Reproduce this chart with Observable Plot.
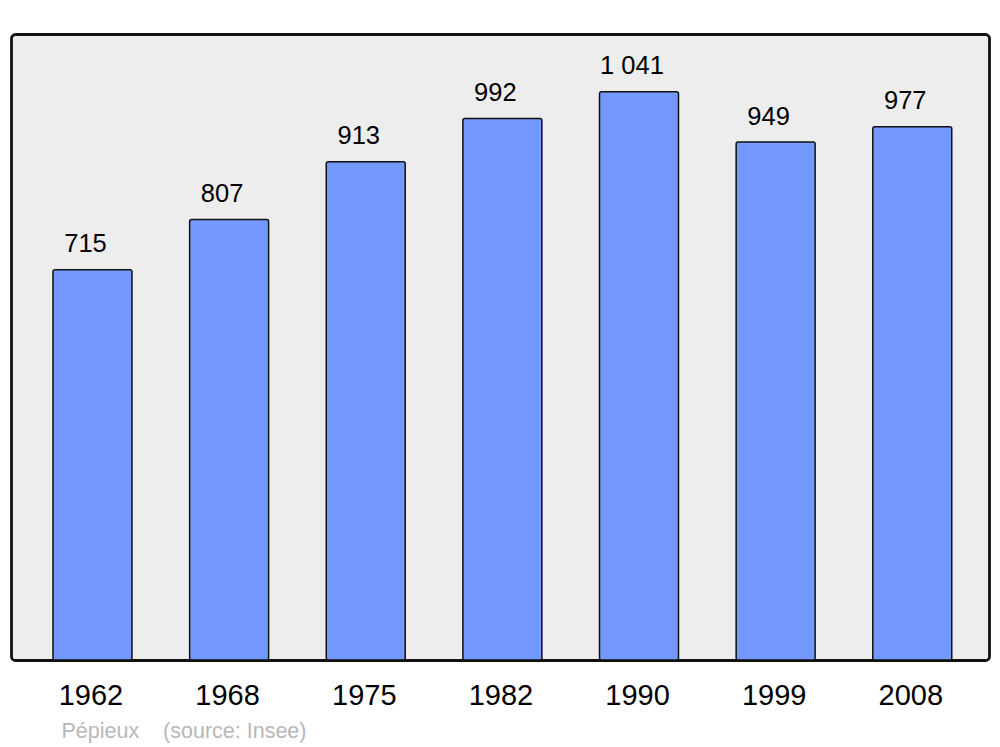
<!DOCTYPE html>
<html>
<head>
<meta charset="utf-8">
<script src="https://cdn.jsdelivr.net/npm/d3@7"></script>
<script src="https://cdn.jsdelivr.net/npm/@observablehq/plot@0.6"></script>
<style>
  html, body { margin: 0; padding: 0; background: #ffffff; }
  #chart svg { display: block; }
</style>
</head>
<body>
<div id="chart"></div>
<script>
const years = ["1962", "1968", "1975", "1982", "1990", "1999", "2008"];
const population = [715, 807, 913, 992, 1041, 949, 977];
const captionText = "Pépieux\u00a0\u00a0\u00a0\u00a0(source: Insee)";

const data = years.map((y, i) => ({year: y, value: population[i]}));
const fr = d3.formatLocale({decimal: ",", thousands: "\u00a0", grouping: [3], currency: ["", " €"]});
const fmt = fr.format(",d");

const font = "'Liberation Sans', Arial, Helvetica, sans-serif";

const chart = Plot.plot({
  width: 1000,
  height: 747,
  marginLeft: 11,
  marginRight: 11,
  marginTop: 34,
  marginBottom: 87,
  style: {fontFamily: font, background: "#ffffff"},
  x: {type: "band", domain: years, paddingInner: 0.422, paddingOuter: 0.29, align: 0.53, round: false, label: null},
  y: {domain: [0, 1147], axis: null},
  marks: [
    Plot.frame({fill: "#ededed", stroke: "#111111", strokeWidth: 2.8, rx: 4}),
    Plot.barY(data, {x: "year", y: "value", fill: "#7399ff", stroke: "#111111", strokeWidth: 1.5, rx: 2}),
    Plot.text(data, {x: "year", y: "value", text: d => fmt(d.value), dx: -7.5, dy: -18, lineAnchor: "bottom", fontSize: 25.5, fill: "#000000"}),
    Plot.axisX({tickSize: 0, tickPadding: 24, dx: -2, fontSize: 29, fill: "#000000", label: null}),
    Plot.text([captionText], {text: d => d, frameAnchor: "bottom-left", dx: 50, dy: 77, lineAnchor: "bottom", textAnchor: "start", fontSize: 21.5, fill: "#b8b8b8"})
  ]
});
document.getElementById("chart").appendChild(chart);
</script>
</body>
</html>
